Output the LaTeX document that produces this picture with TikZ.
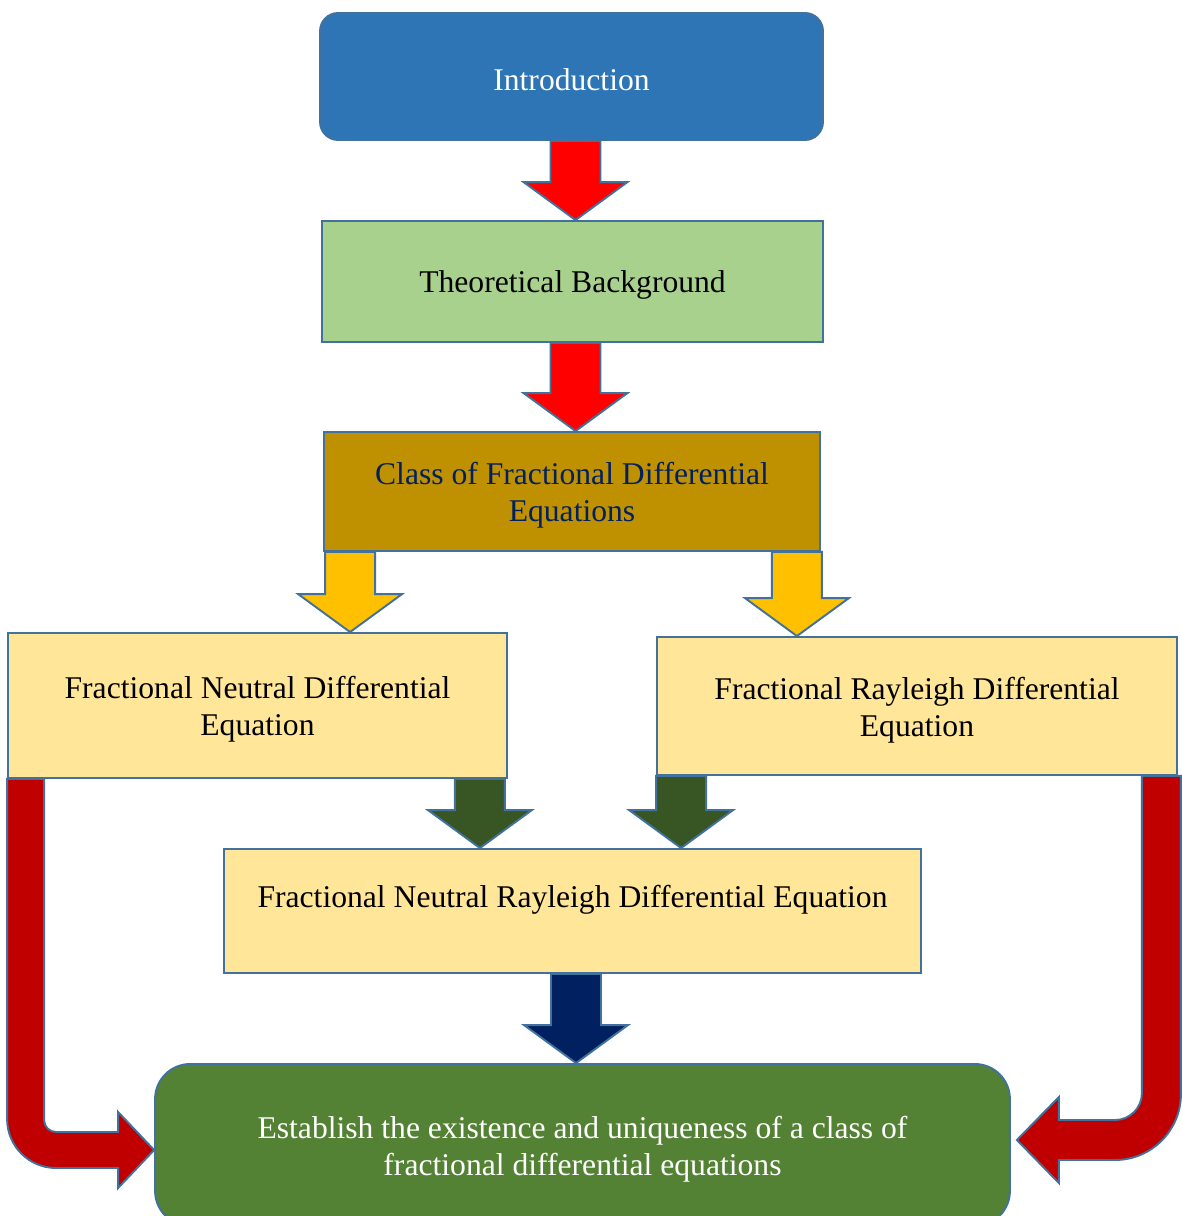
\documentclass[tikz,border=0pt]{standalone}
\usepackage{fontspec}
\setmainfont{Liberation Serif}
\usetikzlibrary{calc}

\definecolor{boxline}{HTML}{41719C}
\definecolor{introblue}{HTML}{2E75B6}
\definecolor{theorygreen}{HTML}{A9D18E}
\definecolor{classgold}{HTML}{BF9000}
\definecolor{classtext}{HTML}{002060}
\definecolor{eqyellow}{HTML}{FFE699}
\definecolor{estgreen}{HTML}{548235}
\definecolor{arrred}{HTML}{FF0000}
\definecolor{arryellow}{HTML}{FFC000}
\definecolor{arrgreen}{HTML}{375623}
\definecolor{arrnavy}{HTML}{002060}
\definecolor{bentred}{HTML}{C00000}

% block arrow pointing down: x from #1, tip at the height of #2
\newcommand{\blkdown}[3]{%
  \draw[blkarrow,fill=#3] let \p1=(#1), \p2=(#2) in
    (\x1-0.5cm,\y1) -- (\x1-0.5cm,\y2+0.76cm) -- (\x1-1.04cm,\y2+0.76cm) -- (\x1,\y2)
    -- (\x1+1.04cm,\y2+0.76cm) -- (\x1+0.5cm,\y2+0.76cm) -- (\x1+0.5cm,\y1) -- cycle;}

\begin{document}
\begin{tikzpicture}[x=0.02cm,y=-0.02cm,
box/.style={draw=boxline,line width=1.1pt,align=center,inner sep=2pt,text height=16.5pt,font=\fontsize{18}{21}\selectfont},
twoline/.style={text height=38pt},
blkarrow/.style={draw=boxline,line width=1.1pt,line join=miter}]

\useasboundingbox (0,0) rectangle (1181,1216);

\draw (571.5,76.5) node[box,fill=introblue,text=white,rounded corners=0.36cm,minimum width=10.06cm,minimum height=2.54cm] (intro) {Introduction};
\draw (572.5,281.5) node[box,fill=theorygreen,minimum width=10.02cm,minimum height=2.42cm] (theory) {Theoretical Background};
\draw (572,491.5) node[box,twoline,fill=classgold,text=classtext,minimum width=9.92cm,minimum height=2.38cm] (class) {Class of Fractional Differential\\Equations};
\draw (257.5,705.5) node[box,twoline,fill=eqyellow,minimum width=9.98cm,minimum height=2.9cm] (fned) {Fractional Neutral Differential\\Equation};
\draw (917,706) node[box,twoline,fill=eqyellow,minimum width=10.4cm,minimum height=2.76cm] (frde) {Fractional Rayleigh Differential\\Equation};
\draw (572.5,911) node[box,twoline,fill=eqyellow,minimum width=13.94cm,minimum height=2.48cm] (fnrde) {Fractional Neutral Rayleigh Differential Equation\\ \mbox{}};
\draw (582.5,1145) node[box,twoline,fill=estgreen,text=white,rounded corners=0.7cm,minimum width=17.1cm,minimum height=3.24cm] (est) {Establish the existence and uniqueness of a class of\\fractional differential equations};

\blkdown{[xshift=0.08cm]intro.south}{theory.north}{arrred}
\blkdown{[xshift=0.06cm]theory.south}{class.north}{arrred}
\blkdown{[xshift=0.54cm]class.south west}{fned.north}{arryellow}
\blkdown{[xshift=-0.48cm]class.south east}{frde.north}{arryellow}
\blkdown{[xshift=-0.56cm]fned.south east}{fnrde.north}{arrgreen}
\blkdown{[xshift=0.5cm]frde.south west}{fnrde.north}{arrgreen}
\blkdown{[xshift=0.07cm]fnrde.south}{est.north}{arrnavy}

% bent arrows into the last box
\draw[blkarrow,fill=bentred] let \p1=(fned.south west), \p2=([yshift=-0.1cm]est.west) in
  (\x1,\y1) -- (\x1,\y2+0.62cm) arc[start angle=180,end angle=270,radius=0.98cm]
  -- (\x2-0.72cm,\y2-0.36cm) -- (\x2-0.72cm,\y2-0.76cm) -- (\x2,\y2)
  -- (\x2-0.72cm,\y2+0.76cm) -- (\x2-0.72cm,\y2+0.36cm)
  -- (\x1+0.98cm,\y2+0.36cm) arc[start angle=270,end angle=180,radius=0.24cm]
  -- (\x1+0.74cm,\y1) -- cycle;
\draw[blkarrow,fill=bentred] let \p1=([xshift=0.06cm]frde.south east), \p2=([xshift=0.12cm,yshift=0.1cm]est.east) in
  (\x1,\y1) -- (\x1,\y2+0.92cm) arc[start angle=0,end angle=-90,radius=1.32cm]
  -- (\x2+0.84cm,\y2-0.4cm) -- (\x2+0.84cm,\y2-0.86cm) -- (\x2,\y2)
  -- (\x2+0.84cm,\y2+0.86cm) -- (\x2+0.84cm,\y2+0.4cm)
  -- (\x1-1.32cm,\y2+0.4cm) arc[start angle=-90,end angle=0,radius=0.54cm]
  -- (\x1-0.78cm,\y1) -- cycle;
\end{tikzpicture}
\end{document}
